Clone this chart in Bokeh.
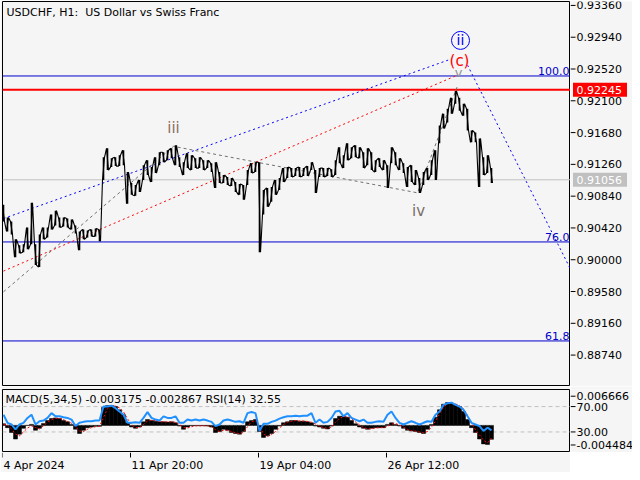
from bokeh.plotting import figure
from bokeh.models import Range1d, Span, Label
from bokeh.layouts import column, row
from bokeh.embed import file_html
from bokeh.resources import INLINE
from bokeh.core.properties import value

FONT = "DejaVu Sans"
BG = "#f5f5f5"

# ---------------- data ----------------
# H1 bars counted from 4 Apr 12:00, sampled every 4 bars
bar_idx = list(range(1, 490, 4))

price_high = [
    0.90727, 0.90557, 0.90504, 0.90269, 0.90190, 0.90203, 0.90426, 0.90753, 0.90203, 0.90334,
    0.90426, 0.90426, 0.90596, 0.90648, 0.90557, 0.90557, 0.90544, 0.90531, 0.90452, 0.90374,
    0.90400, 0.90387, 0.90400, 0.90413, 0.90400, 0.91354, 0.91472, 0.91341, 0.91354, 0.91381,
    0.91446, 0.91158, 0.91014, 0.90988, 0.91054, 0.91250, 0.91315, 0.91224, 0.91354, 0.91420,
    0.91420, 0.91446, 0.91472, 0.91511, 0.91354, 0.91289, 0.91407, 0.91381, 0.91341, 0.91354,
    0.91315, 0.91315, 0.91276, 0.91289, 0.91158, 0.91119, 0.91093, 0.91080, 0.91027, 0.91001,
    0.90988, 0.91184, 0.91276, 0.91289, 0.91289, 0.90923, 0.90949, 0.90962, 0.91054, 0.91080,
    0.91211, 0.91224, 0.91211, 0.91211, 0.91224, 0.91211, 0.91237, 0.91289, 0.91184, 0.91211,
    0.91211, 0.91211, 0.91197, 0.91315, 0.91485, 0.91381, 0.91538, 0.91485, 0.91511, 0.91485,
    0.91420, 0.91472, 0.91420, 0.91315, 0.91341, 0.91315, 0.91250, 0.91485, 0.91420, 0.91341,
    0.91276, 0.91224, 0.91250, 0.91184, 0.91080, 0.91158, 0.91211, 0.91315, 0.91446, 0.91773,
    0.91930, 0.91995, 0.92139, 0.92231, 0.92139, 0.92061, 0.91995, 0.91708, 0.91681, 0.91603,
    0.91354, 0.91381, 0.91211,
]
price_low = [
    0.90504, 0.90374, 0.90334, 0.90034, 0.90086, 0.90099, 0.90138, 0.90203, 0.89929, 0.89903,
    0.90269, 0.90295, 0.90400, 0.90452, 0.90426, 0.90439, 0.90426, 0.90400, 0.90347, 0.90125,
    0.90269, 0.90295, 0.90308, 0.90308, 0.90243, 0.91054, 0.91184, 0.91224, 0.91237, 0.91237,
    0.91250, 0.90740, 0.90857, 0.90844, 0.90896, 0.91054, 0.91119, 0.91027, 0.91145, 0.91250,
    0.91289, 0.91315, 0.91341, 0.91250, 0.91224, 0.91119, 0.91211, 0.91184, 0.91211, 0.91211,
    0.91184, 0.91211, 0.91158, 0.90949, 0.91014, 0.91014, 0.90988, 0.90975, 0.90896, 0.90857,
    0.90792, 0.90988, 0.91145, 0.91158, 0.90099, 0.90596, 0.90700, 0.90766, 0.90857, 0.90923,
    0.91027, 0.91080, 0.91093, 0.91106, 0.91093, 0.91106, 0.91106, 0.91184, 0.90883, 0.91093,
    0.91093, 0.91106, 0.91093, 0.91119, 0.91276, 0.91211, 0.91315, 0.91341, 0.91354, 0.91341,
    0.91211, 0.91250, 0.91184, 0.91158, 0.91224, 0.91184, 0.90949, 0.91276, 0.91250, 0.91184,
    0.91145, 0.90962, 0.91027, 0.90988, 0.90883, 0.90988, 0.91054, 0.91119, 0.91054, 0.91538,
    0.91734, 0.91812, 0.91930, 0.92061, 0.91969, 0.91904, 0.91708, 0.91551, 0.91551, 0.90962,
    0.91119, 0.91145, 0.91014,
]

macd_hist = [
    0.000372, -0.000520, -0.001635, -0.003121, -0.002006, -0.000669, 0.0, 0.000223, -0.001115, -0.000669,
    0.000446, 0.001115, 0.001560, 0.001709, 0.001560, 0.001115, 0.000817, 0.000223, -0.000892, -0.001858,
    -0.001115, -0.000520, -0.000372, -0.000223, -0.000223, 0.004087, 0.004532, 0.004532, 0.004309, 0.003566,
    0.002452, 0.000594, -0.000372, -0.000669, -0.000372, 0.000817, 0.001337, 0.001115, 0.000966, 0.000817,
    0.000817, 0.000743, 0.000817, 0.000594, -0.000149, -0.000892, -0.000372, -0.000074, -0.000074, -0.000074,
    -0.000074, -0.000149, -0.000372, -0.001635, -0.001412, -0.000892, -0.001115, -0.001635, -0.001858, -0.002006,
    -0.001412, 0.000817, 0.001115, 0.001337, -0.001412, -0.002749, -0.002378, -0.001858, -0.000892, -0.000149,
    0.000594, 0.000817, 0.001115, 0.001115, 0.000966, 0.000966, 0.000817, 0.000594, -0.000149, -0.000372,
    -0.000669, -0.000817, -0.000149, 0.001560, 0.002080, 0.002080, 0.001858, 0.001115, 0.000372, -0.000372,
    -0.000669, -0.000892, -0.000669, -0.000520, -0.000520, -0.000520, 0.000223, 0.000594, 0.000223, -0.000149,
    -0.000669, -0.001115, -0.001263, -0.001412, -0.001635, -0.001858, -0.000892, 0.000223, 0.001858, 0.003566,
    0.004830, 0.005201, 0.005052, 0.004681, 0.004309, 0.003195, 0.001337, -0.000520, -0.001635, -0.003121,
    -0.004235, -0.004384, -0.003195,
]
macd_signal = [
    0.0002, 0.0001, -0.0008, -0.0020, -0.0024, -0.0015, -0.0006, -0.0001, -0.0005, -0.0008,
    -0.0001, 0.0007, 0.0013, 0.0016, 0.0016, 0.0013, 0.0009, 0.0005, -0.0003, -0.0013,
    -0.0014, -0.0009, -0.0005, -0.0003, -0.0002, 0.0018, 0.0038, 0.0044, 0.0044, 0.0040,
    0.0031, 0.0015, 0.0002, -0.0005, -0.0005, 0.0002, 0.0010, 0.0012, 0.0011, 0.0009,
    0.0008, 0.0008, 0.0008, 0.0007, 0.0002, -0.0005, -0.0006, -0.0003, -0.0001, -0.0001,
    -0.0001, -0.0001, -0.0003, -0.0010, -0.0014, -0.0011, -0.0011, -0.0014, -0.0017, -0.0019,
    -0.0016, -0.0003, 0.0008, 0.0011, -0.0001, -0.0020, -0.0025, -0.0021, -0.0014, -0.0006,
    0.0002, 0.0007, 0.0009, 0.0011, 0.0010, 0.0010, 0.0009, 0.0007, 0.0003, -0.0002,
    -0.0005, -0.0007, -0.0004, 0.0007, 0.0016, 0.0020, 0.0020, 0.0015, 0.0008, 0.0001,
    -0.0005, -0.0008, -0.0008, -0.0006, -0.0005, -0.0005, -0.0002, 0.0003, 0.0004, 0.0001,
    -0.0004, -0.0009, -0.0012, -0.0013, -0.0015, -0.0017, -0.0014, -0.0004, 0.0010, 0.0027,
    0.0041, 0.0050, 0.0051, 0.0049, 0.0045, 0.0038, 0.0023, 0.0005, -0.0010, -0.0022,
    -0.0034, -0.0040, -0.002867,
]
rsi = [
    57.2, 44.4, 41.8, 34.1, 41.8, 44.4, 52.1, 57.2, 41.8, 46.9,
    47.9, 52.1, 59.7, 54.6, 54.6, 53.1, 52.1, 49.5, 39.2, 44.4,
    45.9, 46.9, 46.9, 47.9, 47.9, 70.0, 70.0, 71.5, 67.4, 62.3,
    57.2, 44.4, 44.4, 45.4, 44.4, 52.1, 61.3, 52.1, 49.5, 47.9,
    54.6, 52.1, 52.1, 54.6, 44.4, 44.4, 49.5, 47.9, 49.5, 47.9,
    49.5, 47.9, 45.9, 39.2, 41.8, 47.9, 49.5, 47.9, 45.9, 46.9,
    44.4, 59.7, 61.3, 59.7, 31.5, 42.8, 42.8, 45.9, 47.9, 51.0,
    53.1, 54.6, 54.6, 55.6, 54.6, 55.6, 55.6, 59.7, 44.4, 49.5,
    44.4, 45.9, 52.1, 62.3, 63.3, 54.6, 59.7, 52.1, 49.5, 46.9,
    49.5, 44.4, 44.4, 45.9, 46.9, 45.9, 57.2, 62.3, 52.1, 44.4,
    41.8, 44.4, 46.9, 44.4, 41.8, 44.4, 46.9, 45.9, 57.2, 62.3,
    72.6, 75.1, 76.2, 72.6, 70.0, 64.9, 54.6, 44.4, 41.8, 39.2,
    31.5, 36.7, 32.55,
]

price_ticks = [0.93360, 0.92940, 0.92520, 0.92100, 0.91680, 0.91260,
               0.90840, 0.90420, 0.90000, 0.89580, 0.89160, 0.88740]
time_tick_bars = [0, 128, 256, 384]
time_tick_labels = ["4 Apr 2024", "11 Apr 20:00", "19 Apr 04:00", "26 Apr 12:00"]

fib_levels = [0.92428, 0.90235, 0.88927]
fib_names = ["100.0", "76.0", "61.8"]
resistance = 0.92245
last_price = 0.91056

# trend / wave lines (bar index, price)
channel_blue_x = [1, 448]
channel_blue_y = [0.90544, 0.92649]
channel_red_x = [1, 455]
channel_red_y = [0.89850, 0.92440]
wave_x = [1, 171, 415, 455]
wave_y = [0.89576, 0.91498, 0.90884, 0.92296]
proj_x = [465, 568]
proj_y = [0.92571, 0.89876]

# MACD scale values and the RSI levels shown on the same scale
macd_ticks = [0.006666, 0.0043, -0.0015, -0.004484]
macd_tick_text = ["0.006666", "70.00", "30.00", "-0.004484"]
rsi_levels = [70, 30]

PW = 570          # plot part width (2px left border + 568 frame)
SW = 62           # right scale strip width
H_MAIN, H_MACD, H_TIME = 386, 66, 20


def base_fig(**kw):
    f = figure(output_backend="svg", toolbar_location=None, x_axis_location=None,
               y_axis_location=None, background_fill_color=BG, border_fill_color=BG, **kw)
    f.grid.visible = False
    return f


def small_text(fig, x, y, txt, **kw):
    fig.text(x=x, y=y, text=txt, text_font=value(FONT), text_font_size=value("11px"), **kw)


# ---------------- main price panel ----------------
p = base_fig(width=PW, height=H_MAIN, x_range=Range1d(0, 568), y_range=Range1d(0.88325, 0.93412),
             min_border_left=2, min_border_right=0, min_border_top=1, min_border_bottom=0,
             outline_line_color="black")

for lv in fib_levels:
    p.add_layout(Span(location=lv, dimension="width", line_color="#0000cc", line_width=1, level="underlay"))
p.add_layout(Span(location=last_price, dimension="width", line_color="#c0c0c0", line_width=1, level="underlay"))
p.add_layout(Span(location=resistance, dimension="width", line_color="#ff0000", line_width=2, level="underlay"))

p.line(channel_blue_x, channel_blue_y, line_color="#0000ff", line_dash="2 3", line_width=1)
p.line(channel_red_x, channel_red_y, line_color="#ff0000", line_dash="2 3", line_width=1)
p.line(wave_x, wave_y, line_color="#707070", line_dash="3 3", line_width=1)
p.line(proj_x, proj_y, line_color="#0000ff", line_dash="2 3", line_width=1)

# price bars (high-low sampled)
zz_x, zz_y = [], []
for k, (b, h, l) in enumerate(zip(bar_idx, price_high, price_low)):
    zz_x += [b - 1, b + 1]
    zz_y += ([h, l] if k % 2 == 0 else [l, h])
p.segment(x0=bar_idx, y0=price_low, x1=bar_idx, y1=price_high, line_color="black", line_width=1.6)
p.line(zz_x, zz_y, line_color="black", line_width=1.1)

# wave labels
p.add_layout(Label(x=171, y=0.91734, text="iii", text_align="center", text_baseline="middle",
                   text_font=FONT, text_font_size="15px", text_color="#8c7060"))
p.add_layout(Label(x=416, y=0.90648, text="iv", text_align="center", text_baseline="middle",
                   text_font=FONT, text_font_size="15px", text_color="#7a7068"))
p.add_layout(Label(x=456, y=0.92480, text="v", text_align="center", text_baseline="middle",
                   text_font=FONT, text_font_size="13px", text_color="#909090"))
p.add_layout(Label(x=457, y=0.92623, text="(c)", text_align="center", text_baseline="middle",
                   text_font=FONT, text_font_size="15px", text_color="#ff0000"))
p.scatter([458], [0.92898], marker="circle", size=18, fill_color=None, line_color="#0000ff", line_width=1)
p.add_layout(Label(x=458, y=0.92898, text="ii", text_align="center", text_baseline="middle",
                   text_font=FONT, text_font_size="14px", text_color="#0000ff"))

for lv, nm in zip(fib_levels, fib_names):
    p.add_layout(Label(x=567, y=lv, text=nm, text_align="right", text_baseline="bottom", y_offset=1,
                       text_font=FONT, text_font_size="11px", text_color="#0000cc"))

p.add_layout(Label(x=4, y=0.93412, y_offset=-4, text="USDCHF, H1:\u00a0 US Dollar vs Swiss Franc",
                   text_baseline="top", text_font=FONT, text_font_size="11px", text_color="black"))

# ---------------- price scale strip ----------------
sp = base_fig(width=SW, height=H_MAIN, x_range=Range1d(0, SW), y_range=p.y_range,
              min_border_left=0, min_border_right=0, min_border_top=1, min_border_bottom=0,
              outline_line_color=None)
sp.segment(x0=[0] * len(price_ticks), y0=price_ticks, x1=[5] * len(price_ticks), y1=price_ticks,
           line_color="black", line_width=1)
small_text(sp, [6] * len(price_ticks), price_ticks, [f"{v:.5f}" for v in price_ticks],
           text_baseline="middle", text_align="left", text_color="black")
sp.rect(x=[29.5, 29.5], y=[resistance, last_price], width=[54, 54], height=[14, 14],
        height_units="screen", fill_color=["#ff0000", "#c0c0c0"], line_color=None)
small_text(sp, [6, 6], [resistance, last_price], [f"{resistance:.5f}", f"{last_price:.5f}"],
           text_baseline="middle", text_align="left", text_color="white")

# ---------------- MACD / RSI panel ----------------
q = base_fig(width=PW, height=H_MACD, x_range=p.x_range, y_range=Range1d(-0.0062, 0.0082),
             min_border_left=2, min_border_right=0, min_border_top=3, min_border_bottom=0,
             outline_line_color="black")
q.extra_y_ranges = {"rsi": Range1d(-2.41, 96.897)}

for lv in rsi_levels:
    q.add_layout(Span(location=lv, dimension="width", y_range_name="rsi", line_color="#c0c0c0",
                      line_dash="4 3", line_width=1, level="underlay"))

q.vbar(x=bar_idx, width=4, top=macd_hist, bottom=0, fill_color="black", line_color="black", line_width=0.5)
q.line(bar_idx, macd_signal, line_color="#ff0000", line_dash="2 2", line_width=1)
q.line(bar_idx, rsi, y_range_name="rsi", line_color="#1e90ff", line_width=2)

q.add_layout(Label(x=3, y=0.0082, y_offset=-3, text="MACD(5,34,5) -0.003175 -0.002867 RSI(14) 32.55",
                   text_baseline="top", text_font=FONT, text_font_size="11px", text_color="black"))

sq = base_fig(width=SW, height=H_MACD, x_range=Range1d(0, SW), y_range=q.y_range,
              min_border_left=0, min_border_right=0, min_border_top=3, min_border_bottom=0,
              outline_line_color=None)
sq.segment(x0=[0] * len(macd_ticks), y0=macd_ticks, x1=[5] * len(macd_ticks), y1=macd_ticks,
           line_color="black", line_width=1)
small_text(sq, [6] * len(macd_ticks), macd_ticks, macd_tick_text,
           text_baseline="middle", text_align="left", text_color="black")

# ---------------- time scale strip ----------------
t = base_fig(width=PW, height=H_TIME, x_range=p.x_range, y_range=Range1d(0, H_TIME),
             min_border_left=2, min_border_right=0, min_border_top=0, min_border_bottom=0,
             outline_line_color=None)
t.segment(x0=time_tick_bars, y0=[H_TIME] * 4, x1=time_tick_bars, y1=[H_TIME - 5] * 4,
          line_color="black", line_width=1)
small_text(t, time_tick_bars, [H_TIME - 6] * 4, time_tick_labels, x_offset=1,
           text_baseline="top", text_align="left", text_color="black")

layout = column(row(p, sp, spacing=0), row(q, sq, spacing=0), t, spacing=0)
open("out.html", "w").write(file_html(layout, INLINE))
